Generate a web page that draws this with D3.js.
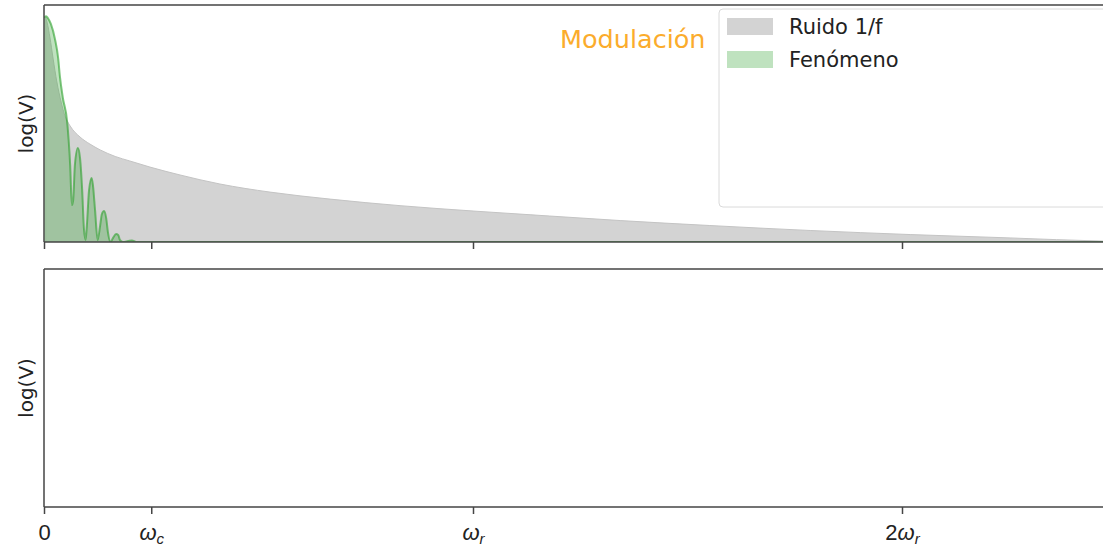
<!DOCTYPE html>
<html>
<head>
<meta charset="utf-8">
<script src="https://cdn.jsdelivr.net/npm/d3@7/dist/d3.min.js"></script>
<style>
  html, body { margin: 0; padding: 0; background: #fff; }
  svg { display: block; font-family: "DejaVu Sans", sans-serif; }
</style>
</head>
<body>
<svg id="chart" width="1103" height="546"></svg>
<script>
// Frequency axis in units of the reference frequency ω_r
const tickValues = [0, 0.25, 1, 2];
const tickLabels = [
  { main: "0", sub: "" , pre: "" },
  { main: "ω", sub: "c", pre: "" },
  { main: "ω", sub: "r", pre: "" },
  { main: "ω", sub: "r", pre: "2" }
];

// 1/f noise spectrum (frequency, amplitude)
const noiseFreq = [0.004, 0.007, 0.014, 0.021, 0.030, 0.040, 0.049, 0.061, 0.084, 0.107, 0.131, 0.166, 0.200,
                   0.247, 0.317, 0.410, 0.527, 0.667, 0.830, 1.002, 1.179, 1.343, 1.552, 1.786, 2.019, 2.252, 2.469, 2.6];
const noiseAmp  = [0.995, 0.975, 0.904, 0.815, 0.709, 0.620, 0.558, 0.514, 0.465, 0.434, 0.408, 0.379, 0.359,
                   0.332, 0.297, 0.257, 0.221, 0.190, 0.161, 0.137, 0.115, 0.095, 0.073, 0.051, 0.033, 0.018, 0.004, 0.0];

// Spectrum of the phenomenon (main lobe plus decaying side lobes)
const signalFreq = [0, 0.005, 0.009, 0.016, 0.026, 0.033, 0.037, 0.044, 0.054, 0.061, 0.065, 0.068, 0.072, 0.079,
                    0.084, 0.089, 0.093, 0.097, 0.100, 0.105, 0.111, 0.114, 0.119, 0.125, 0.131, 0.135, 0.140,
                    0.145, 0.149, 0.155, 0.161, 0.168, 0.173, 0.177, 0.184, 0.196, 0.205, 0.215, 0.235, 2.6];
const signalAmp  = [0.995, 1.0, 0.992, 0.966, 0.895, 0.815, 0.735, 0.638, 0.532, 0.341, 0.164, 0.186, 0.341, 0.416,
                    0.372, 0.230, 0.062, 0.009, 0.075, 0.230, 0.284, 0.253, 0.142, 0.009, 0.075, 0.124, 0.137,
                    0.106, 0.044, 0.0, 0.018, 0.035, 0.031, 0.009, 0.0, 0.004, 0.007, 0.0, 0.0, 0.0];

const legendItems = [
  { label: "Ruido 1/f", fill: "#d3d3d3" },
  { label: "Fenómeno",  fill: "rgba(44,160,44,0.3)" }
];

const svg = d3.select("#chart");
const left = 44, right = 44 + 2.6 * 429;
const topPanel = { top: 5, bottom: 242 };
const botPanel = { top: 269, bottom: 507 };

const x = d3.scaleLinear().domain([0, 2.6]).range([left, right]);
const yTop = d3.scaleLinear().domain([0, 1.05]).range([topPanel.bottom, topPanel.top]);
const yBot = d3.scaleLinear().domain([0, 1]).range([botPanel.bottom, botPanel.top]);

svg.append("defs").append("clipPath").attr("id", "clipTop")
  .append("rect").attr("x", left).attr("y", topPanel.top)
  .attr("width", right - left).attr("height", topPanel.bottom - topPanel.top);

const noise = noiseFreq.map((f, i) => [f, noiseAmp[i]]);
const signal = signalFreq.map((f, i) => [f, signalAmp[i]]);

const area = d3.area().curve(d3.curveMonotoneX)
  .x(d => x(d[0])).y0(yTop(0)).y1(d => yTop(d[1]));
const line = d3.line().curve(d3.curveMonotoneX)
  .x(d => x(d[0])).y(d => yTop(d[1]));

const plot = svg.append("g").attr("clip-path", "url(#clipTop)");
plot.append("path").datum(noise).attr("d", area)
  .attr("fill", "#d3d3d3").attr("stroke", "#c4c4c4").attr("stroke-width", 1);
plot.append("path").datum(signal).attr("d", area)
  .attr("fill", "rgba(44,160,44,0.3)").attr("stroke", "none");
plot.append("path").datum(signal).attr("d", line)
  .attr("fill", "none").attr("stroke", "#2ca02c").attr("stroke-opacity", 0.6).attr("stroke-width", 2);

// Panel frames
function frame(p) {
  const g = svg.append("g").attr("fill", "none").attr("stroke", "#454545").attr("stroke-width", 1.5);
  g.append("line").attr("x1", left).attr("x2", right).attr("y1", p.top).attr("y2", p.top);
  g.append("line").attr("x1", left).attr("x2", right).attr("y1", p.bottom).attr("y2", p.bottom);
  g.append("line").attr("x1", left).attr("x2", left).attr("y1", p.top).attr("y2", p.bottom);
}
frame(topPanel);
frame(botPanel);

// x axes
function xAxis(yPos, withLabels) {
  const g = svg.append("g").attr("transform", `translate(0,${yPos})`)
    .call(d3.axisBottom(x).tickValues(tickValues).tickSize(7).tickSizeOuter(0).tickFormat(() => ""));
  g.select(".domain").remove();
  g.selectAll(".tick line").attr("stroke", "#454545").attr("stroke-width", 1.5);
  if (withLabels) {
    g.selectAll(".tick text").each(function(d, i) {
      const t = d3.select(this).attr("y", 33).attr("dy", null)
        .attr("fill", "#222").style("font-size", "22px");
      const lab = tickLabels[i];
      if (lab.pre) t.append("tspan").text(lab.pre);
      t.append("tspan").text(lab.main).style("font-style", lab.sub ? "italic" : "normal");
      if (lab.sub) t.append("tspan").text(lab.sub).style("font-style", "italic")
        .style("font-size", "15px").attr("dy", "4");
    });
  }
}
xAxis(topPanel.bottom, false);
xAxis(botPanel.bottom, true);

// y labels
[topPanel, botPanel].forEach(p => {
  svg.append("text")
    .attr("transform", `translate(33,${(p.top + p.bottom) / 2}) rotate(-90)`)
    .attr("text-anchor", "middle").attr("fill", "#222").style("font-size", "20px")
    .text("log(V)");
});

// Annotation
svg.append("text").attr("x", 560).attr("y", 48)
  .attr("fill", "#fbac2c").style("font-size", "25.5px").text("Modulación");

// Legend
const lg = svg.append("g").attr("transform", "translate(719,9)");
lg.append("rect").attr("width", 420).attr("height", 198).attr("rx", 4)
  .attr("fill", "rgba(255,255,255,0.85)").attr("stroke", "#dadada").attr("stroke-width", 1);
legendItems.forEach((it, i) => {
  const row = lg.append("g").attr("transform", `translate(0,${17 + i * 33})`);
  row.append("rect").attr("x", 8).attr("y", -8).attr("width", 46).attr("height", 17).attr("fill", it.fill);
  row.append("text").attr("x", 70).attr("y", 0).attr("dy", "0.36em")
    .attr("fill", "#222").style("font-size", "21px").text(it.label);
});
</script>
</body>
</html>
